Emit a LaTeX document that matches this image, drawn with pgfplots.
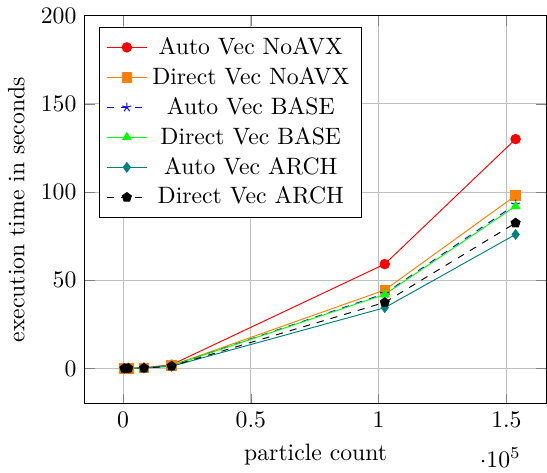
\documentclass[border=0pt]{standalone}
\usepackage{pgfplots}
\pgfplotsset{compat=1.18}
\begin{document}
\begin{tikzpicture}
\begin{axis}[
  scale only axis,
  width=195pt, height=164pt,
  xmin=-15000, xmax=165700,
  ymin=-20, ymax=200,
  grid=major,
  xlabel={particle count},
  ylabel={execution time in seconds},
  xtick={0,50000,100000,150000},
  ytick={0,50,100,150,200},
  legend pos=north west,
  legend cell align=center,
]
\addplot[red, mark=*] coordinates {(512,0.1) (2048,0.2) (8192,0.5) (19000,2.2) (102400,59.2) (153600,130)};
\addlegendentry{Auto Vec NoAVX}
\addplot[orange, mark=square*] coordinates {(512,0.1) (2048,0.2) (8192,0.4) (19000,1.8) (102400,44.5) (153600,98)};
\addlegendentry{Direct Vec NoAVX}
\addplot[blue, dashed, mark=star, mark options={solid}] coordinates {(512,0.1) (2048,0.2) (8192,0.4) (19000,1.6) (102400,42.5) (153600,93)};
\addlegendentry{Auto Vec BASE}
\addplot[green, mark=triangle*] coordinates {(512,0.1) (2048,0.2) (8192,0.4) (19000,1.6) (102400,42) (153600,92)};
\addlegendentry{Direct Vec BASE}
\addplot[teal, mark=diamond*] coordinates {(512,0.1) (2048,0.2) (8192,0.3) (19000,1.3) (102400,34.5) (153600,76)};
\addlegendentry{Auto Vec ARCH}
\addplot[black, dashed, mark=pentagon*, mark options={solid}] coordinates {(512,0.1) (2048,0.2) (8192,0.3) (19000,1.4) (102400,37.5) (153600,82.5)};
\addlegendentry{Direct Vec ARCH}
\end{axis}
\end{tikzpicture}
\end{document}
